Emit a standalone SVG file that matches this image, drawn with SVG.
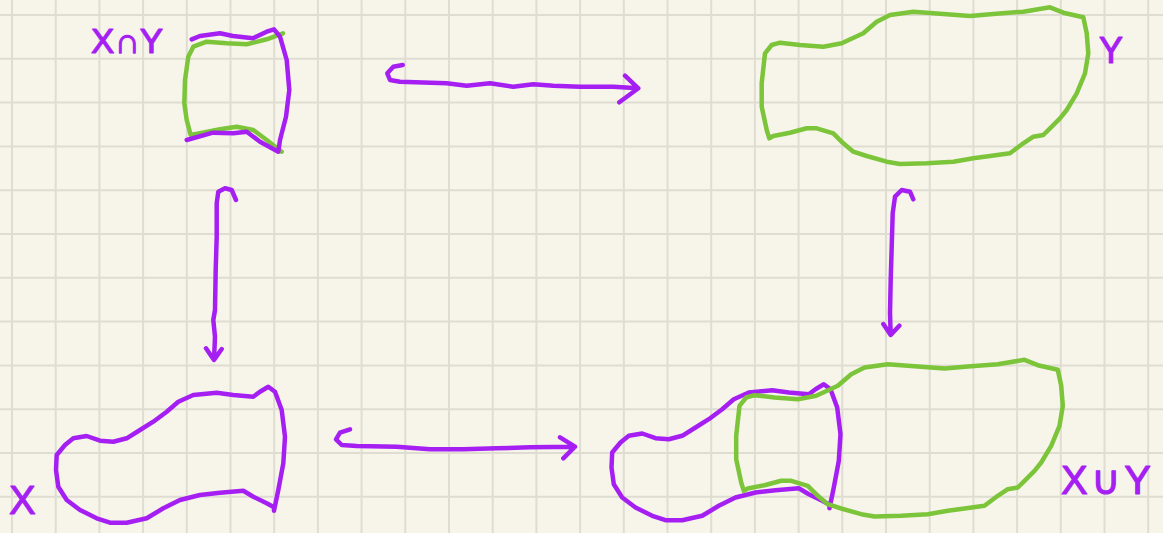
<svg xmlns="http://www.w3.org/2000/svg" width="1163" height="533" viewBox="0 0 1163 533">
<style>
.grid{stroke:#dfddd1;stroke-width:2;fill:none}
.p{stroke:#a61ff2;stroke-width:4.5;fill:none;stroke-linecap:round;stroke-linejoin:round}
.g{stroke:#7cc43a;stroke-width:4.5;fill:none;stroke-linecap:round;stroke-linejoin:round}
.lbl{font-family:"Liberation Sans","DejaVu Sans",sans-serif;fill:#a61ff2;stroke:#a61ff2;stroke-width:1.2;stroke-linejoin:round}
</style>
<defs>
<path id="xshape" d="M274,510.7 L278.3,490 L283.3,463.3 L285,436.7 L281.7,410 L275,391.7 L268.3,386.7 L260,391.7 L253.3,396.7 L233.3,395 L216.7,392.7 L193.3,395 L178.3,401.7 L166.7,411.7 L153.3,421.7 L140,430 L126.7,438.3 L113.3,441.7 L100,440.7 L86.7,436 L73.3,438.3 L65,445 L56.7,455 L56,470 L58.3,486.7 L66.7,500 L80,510 L96.7,518.3 L110,522.7 L126.7,522.7 L146.7,518.3 L163.3,508.3 L180,500 L200,495 L220,492.7 L243.3,490.7 L253.3,496.7 L266.7,503.3 L274,507.3 L274,510.7"/>
<path id="yshape" d="M769.3,138.3 L766.7,130 L761.7,106.7 L761.7,83.3 L765,53.3 L771.7,45 L780,42.7 L800,45 L823.3,46.7 L841.7,43.3 L863.3,33.3 L876.7,21.7 L890,15 L913.3,11.7 L933.3,13.3 L956.7,15 L970,16 L993.3,14 L1023.3,11.7 L1050,7.3 L1063.3,12.7 L1083.3,17.3 L1086.7,33.3 L1088.3,53.3 L1085,73.3 L1076.7,93.3 L1066.7,110 L1060,118.3 L1050,128.3 L1043.3,135 L1033.3,136.7 L1023.3,143.3 L1010,153.3 L990,156 L973.3,158.3 L953.3,161.7 L926.7,163.3 L900,164 L886.7,161.7 L866.7,156 L853.3,151.7 L843.3,143.3 L833.3,133.3 L816.7,128.3 L806.7,128.3 L790,132.7 L773.3,136 Z"/>
</defs>
<rect width="1163" height="533" fill="#f7f5ea"/>
<path class="grid" d="M12,0V533 M55.7,0V533 M99.4,0V533 M143.1,0V533 M186.8,0V533 M230.5,0V533 M274.2,0V533 M317.9,0V533 M361.6,0V533 M405.3,0V533 M449,0V533 M492.7,0V533 M536.4,0V533 M580.1,0V533 M623.8,0V533 M667.5,0V533 M711.2,0V533 M754.9,0V533 M798.6,0V533 M842.3,0V533 M886,0V533 M929.7,0V533 M973.4,0V533 M1017.1,0V533 M1060.8,0V533 M1104.5,0V533 M1148.2,0V533 M0,15H1163 M0,58.8H1163 M0,102.6H1163 M0,146.4H1163 M0,190.2H1163 M0,234H1163 M0,277.8H1163 M0,321.6H1163 M0,365.4H1163 M0,409.2H1163 M0,453H1163 M0,496.8H1163"/>

<g id="node-intersection">
<path class="g" d="M283,33.3 L266.7,39.3 L246.7,44.3 L226.7,43.3 L206.7,41.7 L193.3,46.7 L188.3,56.7 L185,80 L184.3,103.3 L186.7,120 L190.7,135 L200,133.3 L220,129.3 L236.7,126.7 L253.3,130 L266.7,140 L281.7,151.7"/>
<path class="p" d="M191.7,39.3 L200,36 L220,33.3 L233,36 L253,38.3 L266.7,31.7 L274,29.3 L280,36.7 L286.7,60 L289.3,90 L286,116.7 L280,140 L278.3,151.7 L260,141.7 L246.7,131.7 L233.3,133.3 L213,132.7 L186.7,140"/>
<text class="lbl" x="91" y="53" font-size="35" textLength="72" lengthAdjust="spacing">X∩Y</text>
</g>

<g id="node-y">
<use href="#yshape" class="g"/>
<text class="lbl" x="1099" y="63" font-size="36">Y</text>
</g>

<g id="node-x">
<use href="#xshape" class="p"/>
<text class="lbl" x="9" y="514" font-size="40">X</text>
</g>

<g id="node-union">
<use href="#xshape" class="p" transform="translate(555.5,-2.5)"/>
<use href="#yshape" class="g" transform="translate(-25.5,352.5)"/>
<text class="lbl" x="1061" y="494" font-size="40" textLength="90" lengthAdjust="spacing">X∪Y</text>
</g>

<g id="connectors">
<path class="p" d="M402.7,65 L393.3,66.7 L387.3,73.3 L390,80 L400,81.7 L446.7,83.3 L466.7,85.7 L490,83.3 L513.3,86.7 L533.3,84.3 L553.3,85.7 L580,86.7 L613.3,86.7 L638.3,88.3 M625,75.7 L638.3,88.3 L619.3,102.3"/>
<path class="p" d="M350,429.3 L340,432.7 L336,439.3 L341.7,445 L356.7,446 L396.7,446.7 L430,449.3 L463.3,449.3 L496.7,448.3 L530,447.3 L575,446.7 M560,437.3 L575,446.7 L563.3,458.3"/>
<path class="p" d="M236,200 L231.7,190 L225,188.3 L218.3,191.7 L216.7,203.3 L216.7,236.7 L215.7,270 L215,310 L213.3,320 L215,336.7 L214,360 M206,348.3 L214,360 L221.7,349"/>
<path class="p" d="M913.3,199.3 L910,191.7 L901.7,190 L895,196.7 L892.7,213.3 L891.7,246.7 L890.7,280 L890,313.3 L890.7,335 M883.3,324 L890.7,335 L899.3,325.7"/>
</g>
</svg>
